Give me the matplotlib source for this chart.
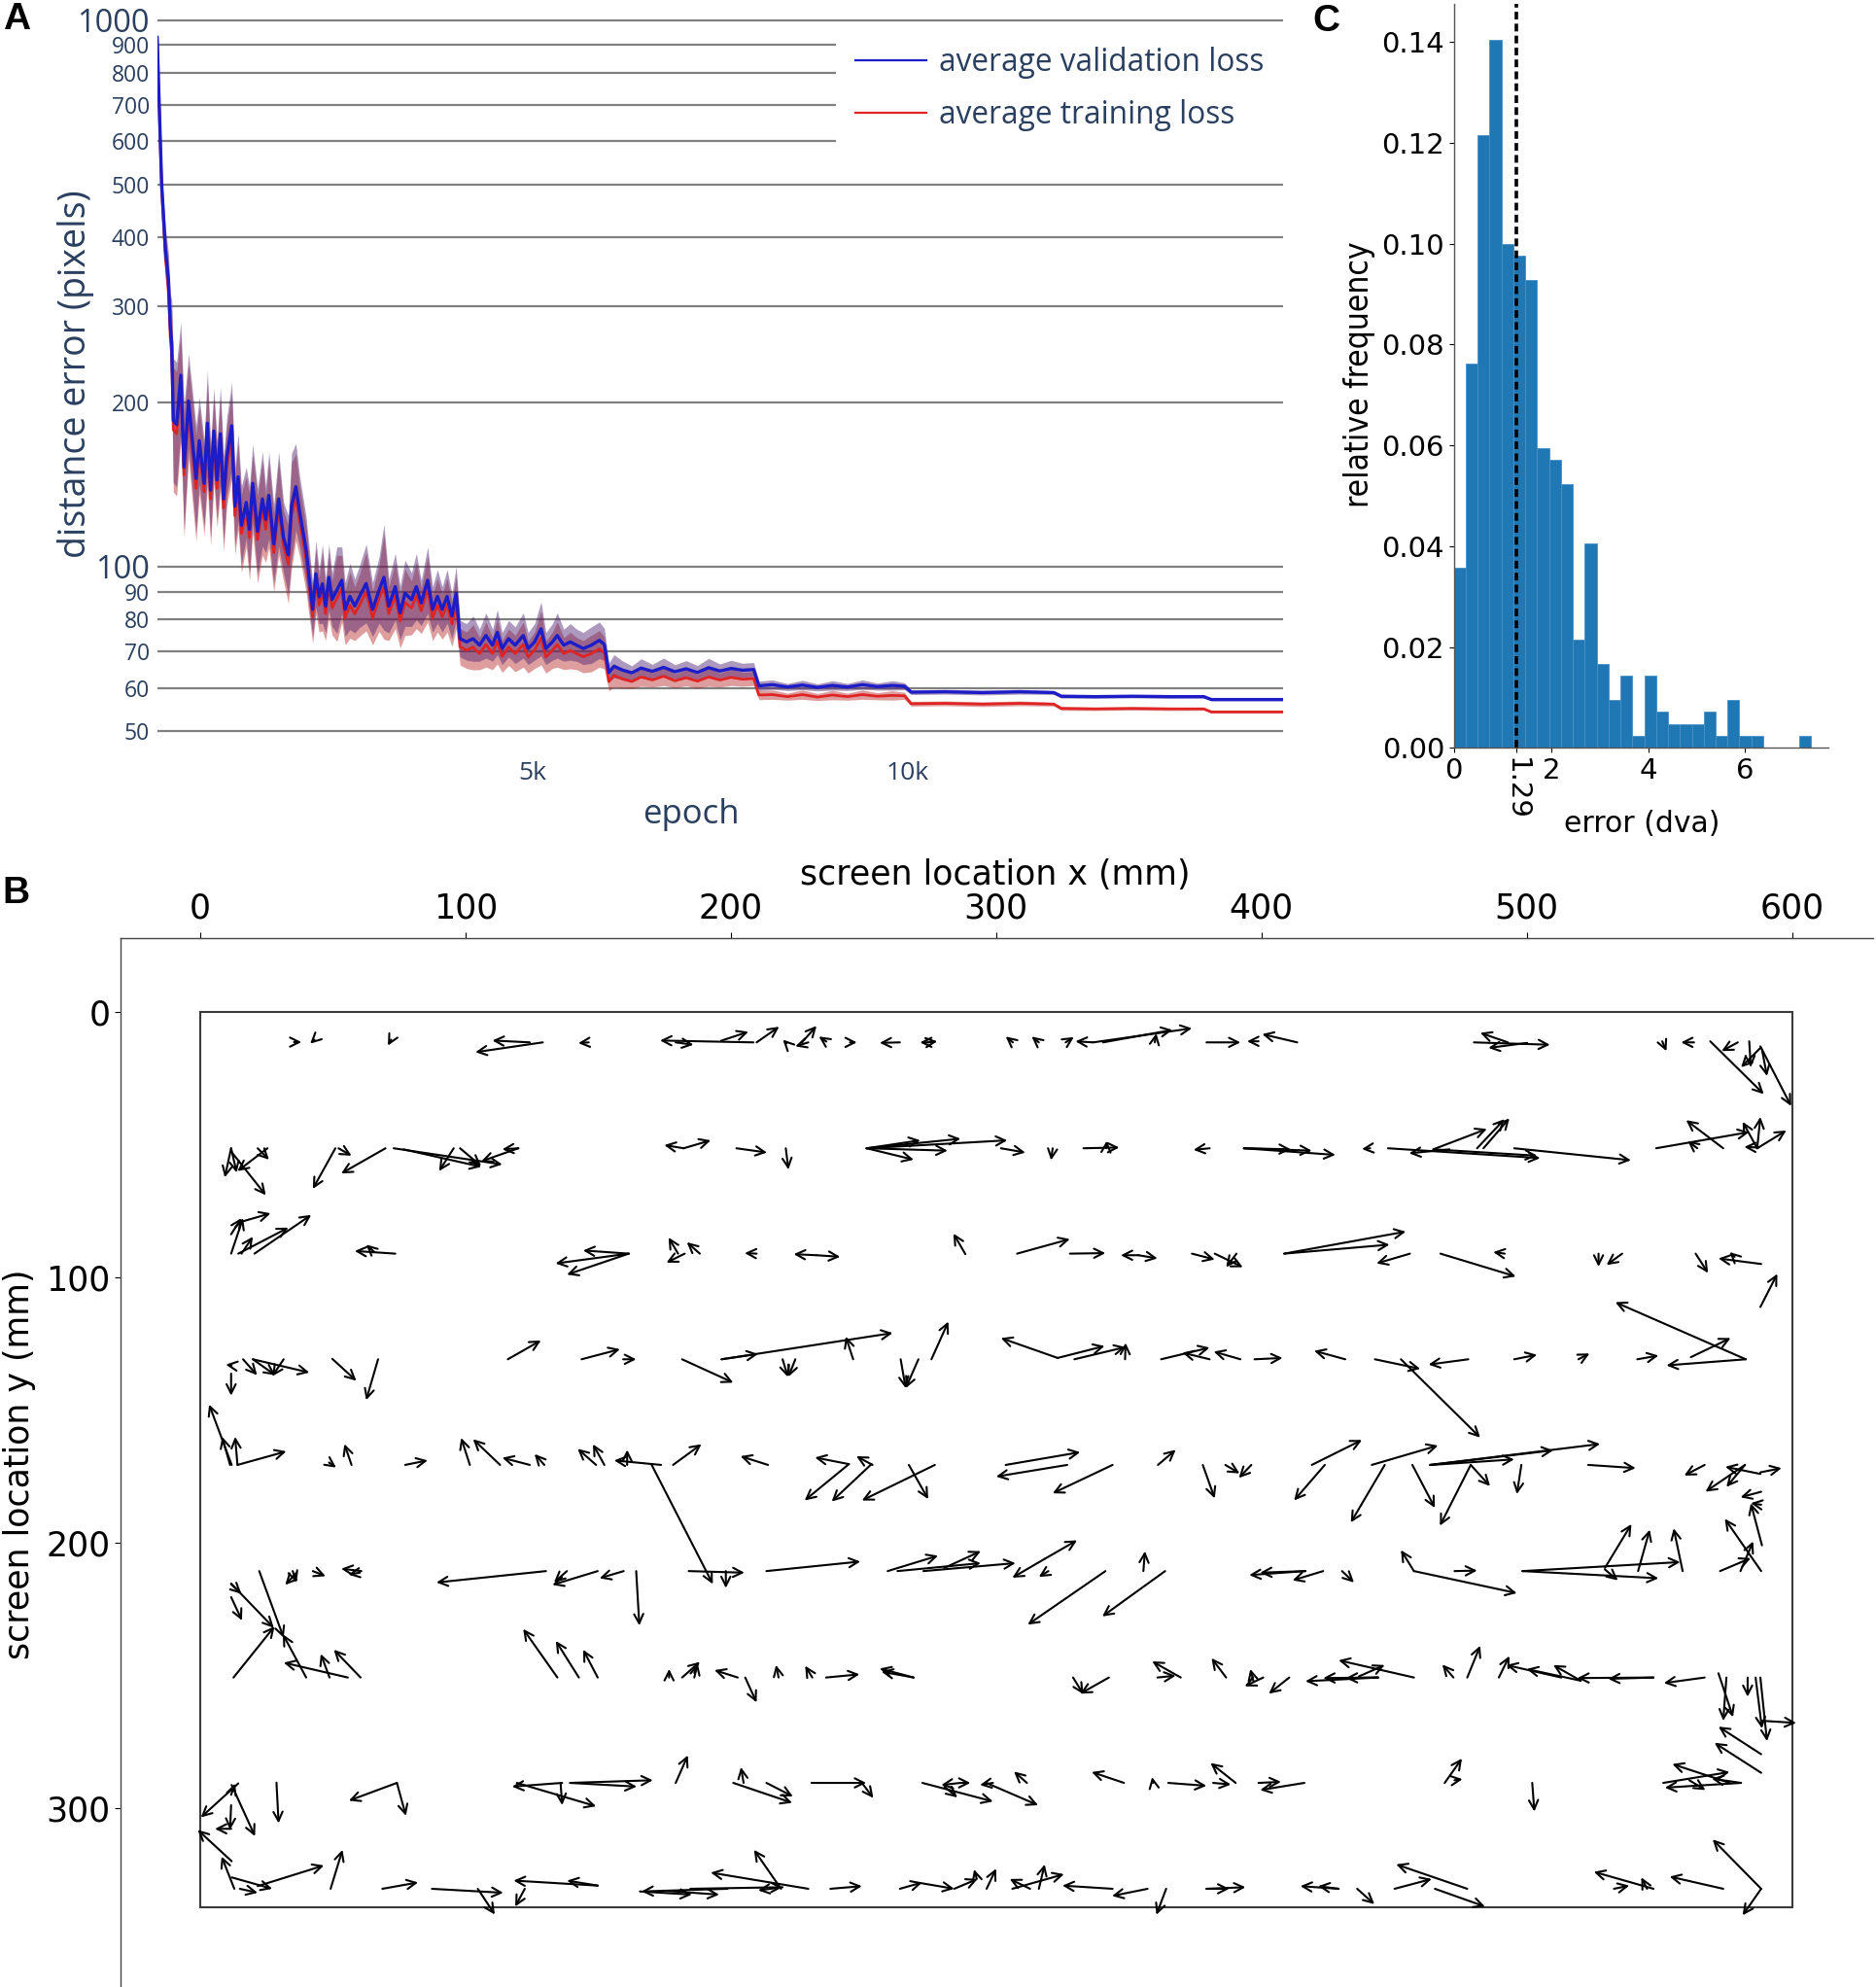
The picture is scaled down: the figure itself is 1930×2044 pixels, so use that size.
import matplotlib
matplotlib.use("Agg")
import matplotlib.pyplot as plt
from matplotlib.lines import Line2D
from matplotlib.patches import Rectangle
from matplotlib.ticker import NullLocator
import numpy as np

W, H = 1931, 2044
PLOTLY_TEXT = "#2a3f5f"

# ── Panel A: loss curves ──────────────────────────────────────────────────────
epochs = [0, 60, 110, 150, 175, 194, 215, 259, 315, 358, 418, 518, 561, 626, 669,
          712, 755, 798, 842, 885, 928, 993, 1036, 1079, 1122, 1187, 1230, 1273, 1338,
          1403, 1446, 1489, 1554, 1619, 1684, 1748, 1791, 1848, 1899, 1986,
          2072, 2115, 2158, 2202, 2245, 2288, 2331, 2396, 2461, 2504, 2569, 2633, 2698,
          2785, 2871, 2958, 3022, 3087, 3173, 3238, 3303, 3389, 3454, 3519, 3605, 3670,
          3735, 3799, 3864, 3929, 3985,
          4037, 4123, 4210, 4296, 4382, 4469, 4533, 4598, 4684, 4771, 4879, 4944, 5030,
          5116, 5181, 5268, 5332, 5419, 5505, 5591, 5678, 5785, 5893, 5960,
          6020, 6088, 6196, 6326, 6450, 6600, 6750, 6900, 7050, 7200, 7350, 7500, 7650,
          7800, 7950,
          8020, 8200, 8400, 8600, 8800, 9000, 9200, 9400, 9600, 9800, 9960,
          10050, 10500, 11000, 11500, 11950,
          12050, 12500, 13000, 13500, 13950,
          14050, 14500, 15000]

val_loss = [930, 500, 380, 335, 275, 256, 185, 182, 224, 152, 201, 145, 170, 142, 183,
            138, 177, 144, 175, 133, 159, 181, 129, 146, 119, 131, 117, 142, 116,
            133, 122, 135, 110, 133, 113, 105, 129, 140, 126, 107,
            83.5, 97, 88, 93, 84.7, 95.6, 87, 90.6, 94.4, 83.5, 88.2, 84.7, 88.2,
            93.1, 83.5, 90.6, 95.6, 84.7, 91.9, 82.3, 89.4, 87, 91.9, 85.8, 94.4, 83.5,
            88.2, 83.5, 88.2, 81.2, 89.4,
            73.8, 72.8, 73.8, 71.8, 74.8, 71.8, 75.8, 70.8, 73.8, 71.8, 74.8, 70.8, 72.8,
            76.9, 70.8, 72.8, 74.8, 71.8, 72.8, 71.8, 70.8, 71.8, 73.3, 72,
            64, 65.7, 64.7, 63.9, 65.2, 64.3, 65.4, 64.2, 65.0, 64.0, 65.3, 64.4, 65.1,
            64.6, 64.8,
            60.5, 60.8, 60.2, 60.7, 60.1, 60.6, 60.2, 60.8, 60.3, 60.6, 60.4,
            58.9, 59.0, 58.8, 59.0, 58.8,
            57.9, 57.8, 57.9, 57.8, 57.8,
            57.1, 57.1, 57.1]

train_loss = [915, 490, 368, 322, 262, 245, 178, 175, 212, 147, 192, 139, 163, 137, 175,
              133, 170, 139, 168, 128, 153, 173, 124, 140, 115, 126, 113, 136, 112,
              128, 117, 130, 106, 128, 109, 101, 124, 134, 121, 103,
              81, 94, 85, 90, 82, 92.5, 84, 87.5, 91, 80.5, 85, 82, 85,
              90, 80.5, 87.5, 92, 82, 88.5, 79.5, 86, 84, 88.5, 83, 91, 80.5,
              85, 81, 85, 78.5, 86,
              71.3, 70.3, 71.2, 69.3, 72, 69.3, 73, 68.5, 71.2, 69.3, 72, 68.3, 70.3,
              74, 68.3, 70.3, 72, 69.3, 70.2, 69.3, 68.4, 69.3, 70.7, 69.5,
              61.6, 63.2, 62.3, 61.6, 62.8, 62, 63, 61.8, 62.6, 61.7, 62.8, 62, 62.7,
              62.2, 62.4,
              58.2, 58.3, 57.8, 58.3, 57.7, 58.2, 57.8, 58.3, 57.9, 58.1, 58.0,
              56.1, 56.2, 56.0, 56.2, 56.0,
              55.0, 54.9, 55.0, 54.9, 54.9,
              54.2, 54.2, 54.2]

# relative half-width of the shaded spread around each curve
spread = [0.03, 0.06, 0.1, 0.12, 0.15, 0.2, 0.3, 0.3, 0.25, 0.3, 0.22, 0.25, 0.2, 0.2, 0.25,
          0.22, 0.2, 0.18, 0.22, 0.2, 0.18, 0.2, 0.18, 0.2, 0.18, 0.16, 0.2, 0.18, 0.2,
          0.22, 0.15, 0.2, 0.18, 0.22, 0.16, 0.18, 0.25, 0.2, 0.16, 0.15,
          0.12, 0.15, 0.12, 0.18, 0.12, 0.15, 0.12, 0.2, 0.15, 0.12, 0.15, 0.12, 0.14,
          0.18, 0.12, 0.15, 0.25, 0.12, 0.15, 0.12, 0.15, 0.12, 0.15, 0.1, 0.15, 0.1,
          0.12, 0.1, 0.12, 0.1, 0.12,
          0.08, 0.08, 0.1, 0.07, 0.1, 0.07, 0.1, 0.07, 0.08, 0.08, 0.1, 0.07, 0.08,
          0.12, 0.07, 0.08, 0.1, 0.07, 0.08, 0.07, 0.07, 0.08, 0.08, 0.07,
          0.04, 0.05, 0.04, 0.03, 0.04, 0.03, 0.04, 0.03, 0.035, 0.03, 0.04, 0.03, 0.035,
          0.03, 0.03,
          0.02, 0.02, 0.015, 0.02, 0.015, 0.02, 0.015, 0.02, 0.015, 0.02, 0.015,
          0.01, 0.01, 0.01, 0.01, 0.008,
          0.008, 0.007, 0.007, 0.007, 0.006,
          0.005, 0.005, 0.005]

a_yticks = [50, 60, 70, 80, 90, 100, 200, 300, 400, 500, 600, 700, 800, 900, 1000]
a_xticks = [5000, 10000]
a_xticklabels = ["5k", "10k"]

# ── Panel C: error histogram ──────────────────────────────────────────────────
hist_lo, hist_hi = 0.0, 7.35
hist_counts = [15, 32, 51, 59, 42, 41, 39, 25, 24, 22, 9, 17, 7, 4, 6, 1, 6, 3,
               2, 2, 2, 3, 1, 4, 1, 1, 0, 0, 0, 1]
mean_error = 1.29

# ── Panel B: arrows from target (tail) to prediction (head), mm ───────────────
row1 = [(35.3, 11.5, 38.1, 11.5), (43.0, 10.6, 41.4, 12.1), (71.9, 10.6, 70.7, 12.8),
        (129.1, 11.6, 103.7, 15.3), (124.2, 11.6, 110.1, 10.9), (146.4, 11.6, 142.5, 11.9),
        (208.5, 11.6, 173.3, 10.9), (179.2, 11.6, 185.9, 12.5), (196.3, 11.0, 206.6, 7.6),
        (209.7, 11.6, 218.2, 5.7), (221.0, 12.0, 219.6, 10.6), (226.8, 11.6, 232.3, 5.4),
        (229.2, 11.6, 224.3, 13.1), (236.0, 11.3, 233.2, 9.4), (244.9, 11.6, 247.5, 11.6),
        (263.7, 11.6, 256.1, 11.8), (274.4, 11.6, 271.3, 11.6), (274.4, 11.6, 277.8, 11.2),
        (306.3, 11.6, 303.6, 9.4), (316.1, 11.6, 313.4, 9.4), (326.2, 11.6, 329.3, 9.6),
        (336.6, 11.6, 329.9, 11.2), (336.6, 11.6, 373.8, 6.3), (340.3, 11.6, 366.5, 6.9),
        (359.8, 11.6, 360.4, 8.2), (379.3, 11.6, 392.1, 11.6), (398.9, 11.2, 394.6, 11.2),
        (413.5, 11.6, 400.3, 8.5), (480.1, 11.6, 508.8, 12.5), (492.9, 11.6, 482.5, 8.0),
        (500.2, 11.8, 485.6, 13.7), (551.1, 11.2, 552.7, 14.9), (563.1, 11.6, 558.2, 11.6),
        (569.2, 11.2, 589.4, 31.1), (579.6, 11.6, 573.5, 14.9), (583.9, 11.2, 584.5, 21.0),
        (588.1, 13.7, 580.8, 21.0), (588.7, 14.3, 590.6, 24.3), (588.1, 13.1, 599.7, 35.6)]

row2 = [(11.6, 51.5, 9.2, 62.5), (11.6, 51.5, 13.7, 60.7), (11.6, 52.7, 24.7, 69.2),
        (25.3, 51.5, 14.0, 60.1), (21.6, 51.5, 25.9, 55.8), (50.9, 51.5, 42.4, 66.8),
        (52.1, 51.5, 57.0, 54.3), (69.8, 51.5, 53.1, 61.0), (72.9, 51.5, 113.8, 57.6),
        (76.6, 51.9, 105.9, 58.5), (95.5, 51.5, 90.0, 60.1), (97.9, 51.5, 105.9, 58.2),
        (119.9, 51.5, 113.8, 51.9), (119.9, 51.5, 105.9, 56.4),
        (182.2, 51.5, 174.9, 50.3), (182.2, 51.5, 192.4, 48.5), (202.1, 51.5, 213.6, 53.1),
        (220.7, 51.5, 221.7, 59.5), (251.2, 51.5, 271.4, 48.5), (251.2, 51.5, 286.6, 47.9),
        (251.2, 51.5, 304.2, 48.5), (251.2, 51.5, 268.9, 55.8), (251.2, 51.5, 281.7, 52.4),
        (301.8, 51.5, 311.0, 53.1), (321.3, 51.5, 320.7, 56.0), (332.9, 51.5, 346.4, 51.2),
        (341.5, 51.5, 341.7, 48.7), (380.5, 51.5, 374.4, 52.1), (393.4, 51.5, 411.1, 51.9),
        (393.4, 51.5, 419.0, 52.4), (393.4, 51.5, 427.9, 54.0), (441.0, 51.5, 437.9, 51.8),
        (447.7, 51.5, 505.1, 55.2), (470.9, 51.9, 455.7, 53.4), (464.8, 51.9, 503.9, 54.3),
        (464.8, 51.9, 485.0, 44.2), (481.3, 51.5, 491.7, 40.5), (483.7, 51.5, 493.5, 40.2),
        (495.3, 51.5, 539.3, 56.0), (574.1, 51.5, 560.1, 40.9), (548.8, 51.5, 583.9, 45.4),
        (564.3, 51.5, 560.7, 48.7), (586.9, 51.5, 597.9, 44.8), (586.9, 51.5, 588.1, 39.7),
        (586.9, 51.5, 581.4, 41.5), (587.5, 51.2, 582.0, 51.0)]

row3 = [(11.6, 91.2, 16.1, 77.8), (11.6, 83.9, 15.5, 77.8), (16.1, 79.0, 26.5, 76.0),
        (14.3, 91.2, 33.2, 81.4), (20.4, 91.2, 41.8, 76.6), (15.5, 91.2, 19.8, 84.8),
        (73.5, 91.2, 58.2, 90.2), (65.6, 90.6, 62.5, 87.8), (161.5, 91.2, 133.9, 94.9),
        (161.5, 91.2, 138.2, 99.1), (161.5, 91.2, 144.3, 90.0),
        (180.1, 91.2, 176.5, 85.1), (182.6, 91.2, 175.7, 94.6), (188.3, 91.2, 183.4, 86.9),
        (209.7, 91.2, 205.2, 91.0), (232.3, 91.8, 223.7, 91.4), (232.3, 91.8, 241.2, 92.4),
        (288.4, 91.4, 283.9, 83.6), (307.9, 91.2, 327.8, 85.7), (327.8, 91.2, 341.2, 91.0),
        (353.7, 91.8, 347.0, 91.8), (353.7, 91.8, 360.8, 93.0), (373.8, 91.2, 382.4, 93.4),
        (382.4, 91.2, 393.0, 96.3), (390.6, 91.2, 386.7, 96.3), (408.6, 91.2, 454.4, 82.9),
        (408.6, 91.2, 448.3, 87.8), (456.0, 91.2, 443.4, 94.9), (467.5, 91.2, 495.9, 99.8),
        (491.7, 91.2, 487.4, 90.6), (527.1, 91.2, 527.1, 96.1), (536.0, 91.2, 530.1, 95.5),
        (563.7, 91.2, 568.4, 98.5), (588.4, 95.1, 572.3, 93.0), (578.4, 92.4, 576.5, 90.6),
        (588.1, 111.3, 594.5, 98.8)]

row4 = [(11.8, 133.3, 9.6, 133.0), (11.6, 136.4, 11.6, 144.7), (16.1, 131.0, 21.4, 137.0),
        (19.8, 131.0, 28.3, 137.0), (19.8, 131.0, 41.1, 136.0), (31.4, 131.0, 27.1, 137.4),
        (49.7, 130.8, 58.8, 139.1), (67.0, 131.0, 62.5, 146.4), (115.9, 131.0, 128.4, 123.9),
        (143.7, 131.0, 158.2, 127.2), (159.4, 131.0, 164.3, 131.0),
        (181.6, 131.0, 200.9, 139.8), (196.5, 131.0, 261.0, 121.1), (196.5, 131.0, 210.3, 129.0),
        (246.1, 131.0, 243.3, 122.4), (219.5, 131.0, 221.5, 137.7), (224.3, 131.0, 221.7, 137.6),
        (264.0, 131.0, 265.9, 141.9), (270.7, 131.0, 265.9, 141.9), (275.6, 131.0, 282.0, 116.8),
        (323.2, 130.5, 301.8, 123.0), (323.2, 130.5, 340.9, 126.0), (329.5, 131.0, 348.8, 126.4),
        (348.6, 131.0, 348.8, 124.8), (362.2, 131.0, 380.5, 126.6), (380.5, 131.0, 370.2, 128.5),
        (392.1, 131.0, 382.0, 128.1), (397.4, 131.0, 408.0, 130.5), (431.6, 131.0, 419.9, 127.8),
        (442.8, 131.0, 459.9, 134.6), (452.6, 131.0, 482.5, 160.5), (478.0, 131.0, 463.0, 133.0),
        (495.3, 131.0, 503.9, 129.3), (519.5, 131.0, 523.7, 128.8), (541.7, 131.0, 549.7, 129.6),
        (582.6, 131.0, 552.7, 133.3), (561.9, 130.2, 576.9, 123.0), (582.6, 131.0, 533.4, 109.5)]

row5 = [(11.8, 170.8, 3.3, 148.0), (14.0, 170.8, 13.1, 160.2), (11.2, 170.8, 8.2, 160.2),
        (14.0, 170.8, 32.4, 165.7), (48.5, 169.9, 51.2, 171.8), (57.0, 170.8, 54.3, 162.9),
        (77.2, 170.8, 85.7, 169.1), (101.6, 170.8, 98.3, 160.6), (113.0, 170.8, 102.8, 161.1),
        (124.2, 170.8, 113.8, 168.1), (129.7, 170.8, 126.0, 166.7), (149.2, 170.8, 142.2, 164.7),
        (152.3, 170.8, 148.0, 163.0), (173.7, 170.8, 156.0, 169.1), (160.9, 170.8, 160.9, 165.1),
        (170.0, 170.5, 193.2, 215.7), (178.2, 170.8, 188.9, 163.0), (214.0, 170.8, 203.6, 167.5),
        (244.5, 170.5, 227.8, 184.2), (244.5, 170.5, 231.7, 168.0), (253.0, 170.5, 238.0, 184.6),
        (253.4, 170.8, 247.3, 167.5), (276.9, 170.8, 249.4, 184.2), (267.1, 170.8, 274.4, 183.7),
        (326.8, 170.8, 300.0, 175.2), (303.6, 170.8, 331.7, 166.0), (343.9, 170.8, 321.3, 181.5),
        (361.0, 170.8, 367.7, 165.1), (377.9, 170.8, 382.4, 183.4), (386.4, 170.8, 391.8, 174.0),
        (396.2, 170.8, 391.5, 175.7), (419.0, 170.8, 437.9, 161.4), (423.9, 170.8, 412.3, 184.2),
        (446.5, 170.8, 433.7, 192.5), (441.6, 170.8, 466.6, 163.5), (463.6, 170.8, 527.7, 162.9),
        (463.6, 170.8, 510.0, 165.3), (464.2, 170.8, 495.3, 168.7), (456.9, 170.8, 465.4, 187.0),
        (478.9, 170.8, 467.3, 193.7), (478.9, 170.8, 486.2, 178.8), (498.0, 170.8, 496.3, 181.8),
        (523.2, 170.8, 541.1, 172.0), (567.1, 170.8, 559.4, 174.8), (582.3, 170.8, 567.4, 180.9),
        (588.1, 174.2, 574.9, 171.5), (588.1, 173.6, 596.1, 172.0), (582.3, 170.8, 575.3, 179.1),
        (588.4, 180.9, 580.6, 183.0), (588.7, 201.1, 584.5, 185.2), (588.4, 185.8, 584.5, 185.2)]

row6 = [(11.6, 215.5, 27.7, 232.2), (11.6, 220.6, 15.7, 229.4), (11.6, 215.7, 15.5, 219.4),
        (22.2, 210.8, 31.4, 235.9), (36.3, 211.4, 32.0, 216.0), (34.8, 210.8, 36.3, 215.1),
        (42.4, 210.8, 47.2, 212.7), (60.7, 210.8, 53.1, 209.9), (60.1, 211.4, 55.8, 212.1),
        (130.3, 210.8, 89.0, 215.1), (149.8, 210.8, 132.7, 216.0), (138.2, 210.8, 133.3, 215.1),
        (159.6, 210.8, 150.5, 213.5), (164.3, 210.8, 165.5, 231.3), (184.1, 210.8, 205.1, 211.4),
        (198.1, 210.8, 198.1, 217.2), (213.4, 210.8, 248.8, 207.2), (259.1, 210.8, 278.1, 205.0),
        (280.5, 209.6, 294.2, 203.3), (262.8, 210.8, 294.2, 207.8), (272.6, 210.8, 307.3, 207.8),
        (318.3, 206.2, 330.5, 199.2), (318.3, 206.2, 306.1, 213.3), (319.7, 210.8, 316.1, 213.0),
        (341.2, 210.8, 311.9, 231.0), (355.5, 210.8, 356.1, 203.3), (363.7, 210.8, 340.0, 227.9),
        (416.6, 210.8, 395.4, 212.3), (416.6, 210.8, 399.5, 211.4), (423.3, 210.8, 411.7, 214.3),
        (430.4, 210.8, 434.9, 215.1), (457.5, 210.8, 452.6, 202.9), (457.5, 210.8, 496.3, 219.1),
        (472.8, 210.8, 481.3, 210.6), (498.4, 210.8, 557.9, 207.4), (498.4, 210.8, 549.7, 213.5),
        (529.5, 209.6, 539.5, 193.1), (529.5, 210.2, 534.4, 214.3), (542.0, 210.8, 546.4, 195.2),
        (558.8, 210.8, 555.4, 194.7), (588.4, 210.8, 574.7, 191.1), (572.9, 210.8, 584.5, 205.9),
        (580.6, 210.8, 585.4, 199.6)]

row7 = [(12.5, 250.9, 28.0, 231.6), (39.9, 250.9, 31.1, 234.6), (55.6, 250.9, 31.4, 245.3),
        (48.7, 250.9, 45.4, 242.0), (60.4, 250.9, 50.3, 240.4), (134.6, 250.9, 121.7, 232.6),
        (142.7, 250.9, 134.0, 237.1), (149.8, 250.9, 144.3, 240.4),
        (176.7, 250.9, 176.7, 247.7), (181.6, 250.9, 188.3, 245.0), (186.2, 250.9, 187.5, 245.6),
        (202.6, 250.9, 193.8, 248.1), (205.4, 250.9, 209.7, 260.3), (218.0, 250.9, 217.0, 246.2),
        (230.7, 250.9, 228.0, 246.5), (235.9, 250.9, 248.5, 249.7), (268.9, 250.9, 256.1, 247.5),
        (268.9, 250.9, 256.8, 248.7), (342.5, 250.9, 331.7, 257.0), (329.0, 250.9, 332.9, 257.2),
        (369.6, 250.9, 358.8, 244.8), (360.8, 250.9, 367.7, 250.2), (386.7, 250.9, 381.2, 243.6),
        (400.7, 250.9, 393.7, 254.2), (397.0, 252.3, 395.8, 247.7), (410.5, 250.9, 402.8, 257.0),
        (444.0, 250.9, 416.6, 252.3), (444.0, 250.9, 423.3, 251.1), (444.0, 250.9, 431.8, 251.1),
        (436.7, 250.5, 446.5, 246.2), (457.5, 250.9, 429.1, 244.4), (472.4, 250.9, 468.2, 246.0),
        (477.6, 250.9, 482.5, 238.9), (489.5, 250.9, 493.5, 242.8), (513.0, 250.9, 492.3, 246.2),
        (520.4, 252.1, 500.0, 247.7), (547.8, 250.9, 519.1, 251.1), (547.8, 250.9, 530.7, 251.4),
        (520.4, 252.1, 510.0, 246.2), (567.1, 250.9, 551.7, 253.0), (572.3, 249.3, 577.8, 265.8),
        (575.3, 250.9, 574.1, 267.2), (583.3, 250.9, 583.3, 258.2), (586.3, 250.9, 588.7, 270.1),
        (588.1, 250.9, 590.6, 274.9), (588.7, 267.2, 601.6, 268.0), (588.4, 279.8, 572.3, 269.4),
        (588.4, 286.8, 570.8, 275.5)]

row8 = [(14.3, 290.8, 0.2, 303.6), (11.8, 291.4, 20.6, 310.7), (11.6, 295.1, 13.1, 290.8),
        (28.7, 290.5, 29.5, 305.8), (11.6, 299.0, 11.2, 308.3), (11.6, 307.9, 5.5, 307.9),
        (74.1, 290.6, 56.0, 297.3), (74.1, 290.6, 77.5, 303.0), (119.3, 290.6, 149.2, 299.4),
        (136.4, 290.6, 117.5, 292.0), (135.8, 290.6, 136.4, 299.0), (139.4, 290.6, 170.6, 289.6),
        (139.4, 290.6, 164.5, 292.0), (179.2, 290.6, 183.8, 280.2), (204.8, 290.6, 203.8, 284.7),
        (200.9, 290.6, 223.1, 298.1), (213.4, 290.6, 223.4, 295.7), (230.4, 290.6, 251.0, 290.6),
        (249.4, 290.6, 253.7, 296.3), (272.2, 290.6, 298.8, 297.6), (280.5, 292.0, 285.4, 296.1),
        (286.6, 290.6, 279.3, 291.4), (286.6, 290.6, 290.3, 290.6), (298.8, 290.6, 293.9, 291.4),
        (296.3, 290.6, 315.8, 299.0), (311.6, 290.6, 306.7, 286.3), (348.2, 290.6, 336.0, 286.5),
        (359.2, 290.6, 358.8, 288.4), (364.9, 290.6, 379.3, 291.7), (381.8, 290.6, 388.5, 291.2),
        (390.3, 290.6, 380.8, 283.1), (398.9, 290.6, 407.4, 290.2), (416.2, 290.6, 399.5, 293.3),
        (469.1, 290.6, 475.6, 281.4), (472.8, 289.6, 475.8, 289.2), (502.1, 290.6, 502.9, 301.4),
        (580.8, 290.6, 552.1, 292.4), (576.5, 290.6, 554.9, 283.5), (551.5, 290.6, 576.5, 286.5),
        (561.3, 289.6, 567.4, 293.3), (580.8, 290.6, 569.8, 289.0)]

row9 = [(11.8, 320.1, -1.0, 308.3), (12.8, 330.5, 8.0, 318.3), (11.8, 326.2, 27.1, 330.5),
        (21.6, 329.5, 46.6, 321.7), (49.1, 330.5, 53.6, 315.8), (14.9, 330.5, 21.6, 332.0),
        (68.6, 330.5, 82.1, 328.1), (87.3, 330.5, 114.2, 332.0), (104.6, 330.5, 111.0, 340.2),
        (122.3, 330.5, 118.7, 337.2), (149.8, 329.3, 118.1, 327.4), (149.8, 329.3, 138.2, 327.4),
        (198.7, 330.5, 166.3, 331.5), (165.7, 331.5, 185.3, 332.7), (174.3, 331.2, 195.6, 332.7),
        (219.5, 329.9, 210.3, 331.1), (184.7, 330.5, 219.5, 329.9), (218.9, 330.5, 208.7, 315.8),
        (229.2, 330.5, 192.4, 324.4), (237.5, 330.5, 249.4, 329.5), (263.7, 330.5, 272.2, 328.1),
        (271.3, 328.3, 284.2, 330.5), (284.2, 330.5, 293.0, 326.8), (292.7, 326.8, 291.7, 323.2),
        (296.4, 330.5, 300.0, 322.9), (312.8, 330.5, 305.1, 326.8), (306.1, 330.5, 325.6, 325.0),
        (316.1, 330.5, 318.3, 321.3), (343.9, 330.5, 325.0, 329.3), (357.1, 330.5, 343.7, 333.2),
        (364.1, 330.5, 360.4, 340.3), (379.3, 330.5, 394.0, 329.9), (379.3, 330.5, 387.9, 330.5),
        (429.1, 330.5, 414.7, 329.5), (429.1, 330.5, 421.4, 329.5), (436.1, 330.5, 442.6, 336.3),
        (477.6, 330.5, 450.8, 321.3), (450.2, 330.5, 464.2, 326.8), (465.4, 330.5, 484.3, 337.2),
        (547.8, 330.5, 525.3, 324.1), (532.9, 330.5, 538.7, 329.3), (545.4, 330.5, 543.2, 326.2),
        (574.1, 330.5, 553.9, 325.9), (588.4, 330.5, 570.1, 311.9), (588.4, 330.5, 581.4, 340.5)]

screen_w, screen_h = 600, 337.5
b_ticks_x = [0, 100, 200, 300, 400, 500, 600]
b_ticks_y = [0, 100, 200, 300]

# ── Figure ────────────────────────────────────────────────────────────────────
fig = plt.figure(figsize=(W / 100, H / 100), dpi=100)

def fx(px):
    return px / W

def fy(py):
    return 1 - py / H

# ---------------- Panel A ----------------
axA = fig.add_axes([0.08374, 0.6195, 0.5996, 0.3727])
ep = np.array(epochs)
val = np.array(val_loss)
trn = np.array(train_loss)
spr = np.array(spread)

axA.fill_between(ep, trn / (1 + spr), trn * (1 + spr), color="#b82828", alpha=0.45, lw=0, zorder=2)
axA.fill_between(ep, val / (1 + spr), val * (1 + spr), color="#4a1e6e", alpha=0.45, lw=0, zorder=2)
axA.plot(ep, trn, color="#e02424", lw=2.0, zorder=3)
axA.plot(ep, val, color="#1c1cc8", lw=2.4, zorder=4)

axA.set_yscale("log")
axA.set_ylim(45, 1020)
axA.set_xlim(0, 15000)
axA.set_yticks(a_yticks)
axA.set_yticklabels([str(t) for t in a_yticks])
axA.yaxis.set_minor_locator(NullLocator())
axA.set_xticks(a_xticks)
axA.set_xticklabels(a_xticklabels)
axA.tick_params(axis="both", length=0, labelcolor=PLOTLY_TEXT)
axA.tick_params(axis="y", pad=5.5)
axA.tick_params(axis="x", pad=4)
for lbl, t in zip(axA.get_yticklabels(), a_yticks):
    lbl.set_fontfamily("Open Sans")
    lbl.set_fontsize(23.5 if t in (100, 1000) else 16.5)
for lbl in axA.get_xticklabels():
    lbl.set_fontfamily("Open Sans")
    lbl.set_fontsize(19)
for s in axA.spines.values():
    s.set_visible(False)
axA.grid(axis="y", color="#808080", lw=1.6, zorder=1)
axA.grid(axis="x", visible=False)
axA.set_axisbelow(True)

# white legend background reaching the right edge of the plot area
axA.add_patch(Rectangle((fx(860), fy(170)), fx(1330) - fx(860), fy(28) - fy(170),
                        transform=fig.transFigure, facecolor="white", edgecolor="none",
                        zorder=1.5))
handles = [Line2D([0], [0], color="#1c1cc8", lw=1.6),
           Line2D([0], [0], color="#e02424", lw=1.6)]
axA.legend(handles, ["average validation loss", "average training loss"],
           loc="upper left", bbox_to_anchor=(fx(869), fy(37)), bbox_transform=fig.transFigure,
           frameon=False, prop={"family": "Open Sans", "size": 22.8}, labelcolor=PLOTLY_TEXT,
           handlelength=2.3, handletextpad=0.42, labelspacing=0.66,
           borderpad=0.35, borderaxespad=0)

fig.text(fx(78), fy(385), "distance error (pixels)", rotation=90, ha="center", va="center",
         fontsize=27, family="Open Sans", color=PLOTLY_TEXT)
fig.text(fx(711), fy(838), "epoch", ha="center", va="center",
         fontsize=25, family="Open Sans", color=PLOTLY_TEXT)

# ---------------- Panel C ----------------
axC = fig.add_axes([0.7746, 0.6236, 0.1997, 0.3744])
counts = np.array(hist_counts, dtype=float)
rel_freq = counts / counts.sum()
edges = np.linspace(hist_lo, hist_hi, len(hist_counts) + 1)
axC.bar(edges[:-1], rel_freq, width=np.diff(edges), align="edge",
        color="#1f77b4", edgecolor="#4a90c8", linewidth=0.6)
axC.axvline(mean_error, color="black", ls=(0, (2.2, 1.2)), lw=2.6)
axC.set_xlim(0, 7.72)
axC.set_ylim(0, 0.1475)
axC.set_yticks([0, 0.02, 0.04, 0.06, 0.08, 0.10, 0.12, 0.14])
axC.set_yticklabels([f"{v:.2f}" for v in [0, 0.02, 0.04, 0.06, 0.08, 0.10, 0.12, 0.14]])
axC.set_xticks([0, mean_error, 2, 4, 6])
axC.set_xticklabels(["0", f"{mean_error:.2f}", "2", "4", "6"])
axC.tick_params(axis="both", labelsize=21, length=3.5, width=0.8)
xl = axC.get_xticklabels()
xl[1].set_rotation(-90)
xl[1].set_va("top")
for sp in ["top", "right"]:
    axC.spines[sp].set_visible(False)
for sp in ["left", "bottom"]:
    axC.spines[sp].set_color("#555555")
    axC.spines[sp].set_linewidth(1.0)

fig.text(fx(1689), fy(848), "error (dva)", ha="center", va="center", fontsize=21.5)
fig.text(fx(1399), fy(385), "relative frequency", rotation=90, ha="center", va="center",
         fontsize=24, fontstretch="condensed")

# ---------------- Panel B ----------------
axB = fig.add_axes([0.0642, 0.0, 0.9336, 0.5279])
axB.set_xlim(-30.1, 630.5)
axB.set_ylim(367.5, -27.7)
axB.add_patch(Rectangle((0, 0), screen_w, screen_h, fill=False, ec="#3a3a3a", lw=1.5))
for row in [row1, row2, row3, row4, row5, row6, row7, row8, row9]:
    for tx, ty, px, py in row:
        axB.annotate("", xy=(px, py), xytext=(tx, ty),
                     arrowprops=dict(arrowstyle="->", color="black", lw=1.5,
                                     shrinkA=0, shrinkB=0, mutation_scale=17))
axB.xaxis.tick_top()
axB.set_xticks(b_ticks_x)
axB.set_yticks(b_ticks_y)
axB.tick_params(axis="both", labelsize=25, length=4, width=0.8)
axB.tick_params(axis="x", pad=6)
for sp in ["right", "bottom"]:
    axB.spines[sp].set_visible(False)
for sp in ["left", "top"]:
    axB.spines[sp].set_color("#444444")
    axB.spines[sp].set_linewidth(1.0)

fig.text(fx(1024), fy(900), "screen location x (mm)", ha="center", va="center", fontsize=25)
fig.text(fx(20), fy(1506), "screen location y (mm)", rotation=90, ha="center", va="center",
         fontsize=25)

# panel letters
for letter, (px, py) in {"A": (17, 20), "B": (16, 919), "C": (1364, 22)}.items():
    fig.text(fx(px), fy(py), letter, ha="center", va="center", fontsize=28,
             fontweight="bold", family="Liberation Sans")

fig.savefig("out.png", dpi=100)
